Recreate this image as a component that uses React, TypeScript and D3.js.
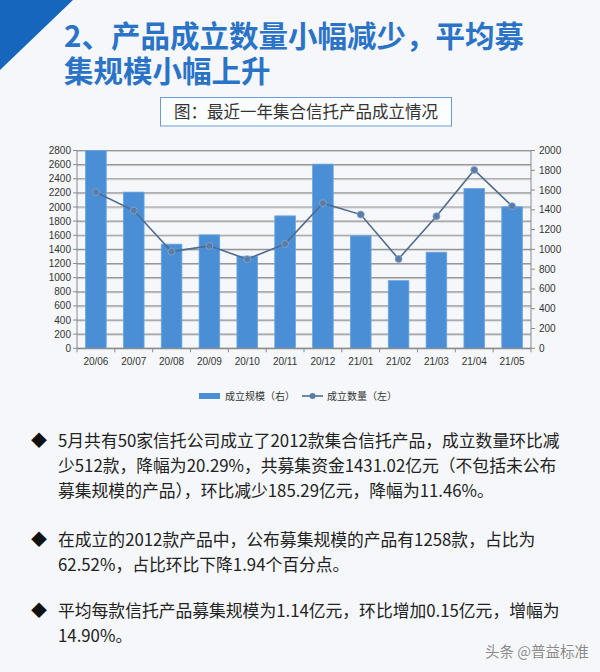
import React from 'react';
import * as d3 from 'd3';

const categories = ['20/06', '20/07', '20/08', '20/09', '20/10', '20/11', '20/12', '21/01', '21/02', '21/03', '21/04', '21/05'];
// 成立规模（右轴，亿元）
const scaleValues = [2000, 1579, 1053, 1147, 931, 1339, 1862, 1137, 684, 972, 1616, 1431];
// 成立数量（左轴，款）
const countValues = [2210, 1950, 1369, 1450, 1261, 1478, 2055, 1893, 1265, 1870, 2524, 2012];
const leftTicks = d3.range(0, 2801, 200);
const rightTicks = d3.range(0, 2001, 200);

const titleLines = ['2、产品成立数量小幅减少，平均募', '集规模小幅上升'];
const subtitle = '图：最近一年集合信托产品成立情况';
const legendBar = '成立规模（右）';
const legendLine = '成立数量（左）';
const paragraphs = [
  ['5月共有50家信托公司成立了2012款集合信托产品，成立数量环比减', '少512款，降幅为20.29%，共募集资金1431.02亿元（不包括未公布', '募集规模的产品），环比减少185.29亿元，降幅为11.46%。'],
  ['在成立的2012款产品中，公布募集规模的产品有1258款，占比为', '62.52%，占比环比下降1.94个百分点。'],
  ['平均每款信托产品募集规模为1.14亿元，环比增加0.15亿元，增幅为', '14.90%。'],
];
const paraBaselines = [[447, 472, 497], [546, 571], [617, 642]];
const watermark = '头条 @普益标准';

const CJK = '"Noto Sans CJK SC", "Noto Sans", sans-serif';
const NUM = '"Liberation Sans", "DejaVu Sans", sans-serif';

export default function App() {
  const left = 77, right = 531, top = 150.5, bottom = 348.3;
  const x = d3.scaleBand<string>().domain(categories).range([left, right]).paddingInner(0.455).paddingOuter(0.2275);
  const xb = d3.scaleBand<string>().domain(categories).range([left, right]);
  const yL = d3.scaleLinear().domain([0, 2800]).range([bottom, top]);
  const yR = d3.scaleLinear().domain([0, 2000]).range([bottom, top]);
  const line = d3.line<number>()
    .x((_, i) => (xb(categories[i]) as number) + xb.bandwidth() / 2)
    .y((d) => yL(d));

  return (
    <svg width={600} height={672} style={{ position: 'absolute', left: 0, top: 0, background: '#f5f7fa' }}>
      <rect x={0} y={0} width={600} height={672} fill="#f5f7fa" />
      <polygon points="0,0 73,0 0,70" fill="#1766bd" />
      <text fontFamily={CJK} fontWeight={700} fontSize={29.5} fill="#2a73c7">
        {titleLines.map((t, i) => (
          <tspan key={i} x={64} y={47 + i * 35}>{t}</tspan>
        ))}
      </text>
      <rect x={160.5} y={97.5} width={291} height={28.5} fill="#fcfdfe" stroke="#6b9bd6" strokeWidth={1} />
      <text x={306} y={117.5} textAnchor="middle" fontFamily={CJK} fontSize={16.5} fill="#333">{subtitle}</text>

      {leftTicks.map((t) => (
        <g key={t}>
          <line x1={left} x2={right} y1={yL(t) + 1} y2={yL(t) + 1} stroke="#d0d0d0" strokeWidth={1} />
          <line x1={left} x2={right} y1={yL(t)} y2={yL(t)} stroke="#979797" strokeWidth={1.2} />
        </g>
      ))}
      {scaleValues.map((v, i) => (
        <rect key={i} x={x(categories[i])} y={yR(v)} width={x.bandwidth()} height={bottom - yR(v)}
          fill="#4a8fd6" stroke="#6aa5e2" strokeWidth={0.8} />
      ))}
      <line x1={left} x2={left} y1={top} y2={bottom} stroke="#8a8a8a" />
      <line x1={right} x2={right} y1={top} y2={bottom} stroke="#8a8a8a" />
      <line x1={left} x2={right} y1={bottom} y2={bottom} stroke="#8a8a8a" />
      {leftTicks.map((t) => (
        <g key={'l' + t}>
          <line x1={left - 4} x2={left} y1={yL(t)} y2={yL(t)} stroke="#8a8a8a" />
          <text x={71} y={yL(t) + 3.5} textAnchor="end" fontFamily={NUM} fontSize={10} fill="#333">{t}</text>
        </g>
      ))}
      {rightTicks.map((t) => (
        <g key={'r' + t}>
          <line x1={right} x2={right + 4} y1={yR(t)} y2={yR(t)} stroke="#8a8a8a" />
          <text x={539} y={yR(t) + 3.5} textAnchor="start" fontFamily={NUM} fontSize={10} fill="#333">{t}</text>
        </g>
      ))}
      {categories.map((c) => (
        <g key={c}>
          <line x1={xb(c) as number} x2={xb(c) as number} y1={bottom} y2={bottom + 4} stroke="#8a8a8a" />
          <text x={(xb(c) as number) + xb.bandwidth() / 2} y={365} textAnchor="middle" fontFamily={NUM} fontSize={10} fill="#333">{c}</text>
        </g>
      ))}
      <line x1={right} x2={right} y1={bottom} y2={bottom + 4} stroke="#8a8a8a" />
      <path d={line(countValues) as string} fill="none" stroke="#4f6c8e" strokeWidth={1.6} />
      {countValues.map((v, i) => (
        <circle key={i} cx={(xb(categories[i]) as number) + xb.bandwidth() / 2} cy={yL(v)} r={3.5} fill="#5a7ca8" stroke="#8aa6c8" strokeWidth={0.8} />
      ))}
      <rect x={199} y={393} width={21} height={6} fill="#4a8fd6" />
      <text x={225} y={399.5} fontFamily={CJK} fontSize={10} fill="#333">{legendBar}</text>
      <line x1={302} x2={323} y1={396} y2={396} stroke="#4f6c8e" strokeWidth={1.6} />
      <circle cx={312.5} cy={396} r={3} fill="#5a7ca8" />
      <text x={327} y={399.5} fontFamily={CJK} fontSize={10} fill="#333">{legendLine}</text>

      {paragraphs.map((p, pi) => (
        <g key={pi}>
          <text x={31} y={paraBaselines[pi][0] - 1} fontFamily={CJK} fontSize={16} fill="#111">◆</text>
          {p.map((ln, li) => (
            <text key={li} x={58} y={paraBaselines[pi][li]} fontFamily={CJK} fontSize={16.8} fill="#222">{ln}</text>
          ))}
        </g>
      ))}
      <text x={589} y={657} textAnchor="end" fontFamily={CJK} fontSize={14.5} fill="#8a8a8a" stroke="#ffffff" strokeWidth={0.6} paintOrder="stroke">{watermark}</text>
    </svg>
  );
}
